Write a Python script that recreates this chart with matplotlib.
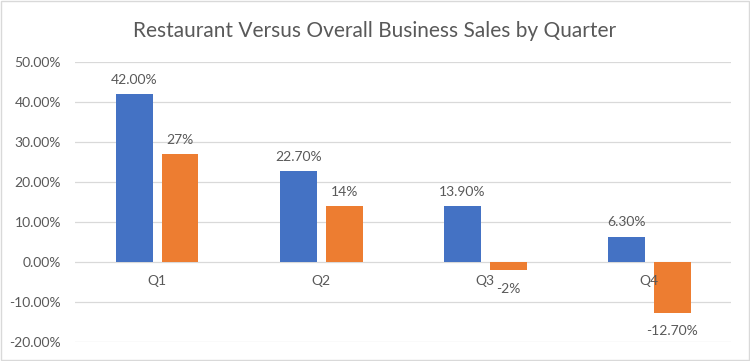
import matplotlib.pyplot as plt
import matplotlib.ticker as ticker
import numpy as np

# --- data ---
quarters = ['Q1', 'Q2', 'Q3', 'Q4']
restaurant = [0.42, 0.227, 0.139, 0.063]
overall = [0.27, 0.14, -0.02, -0.127]
restaurant_labels = ['42.00%', '22.70%', '13.90%', '6.30%']
overall_labels = ['27%', '14%', '-2%', '-12.70%']

plt.rcParams['font.family'] = ['Lato', 'DejaVu Sans']
text_color = '#595959'
blue = '#4472C4'
orange = '#ED7D31'

fig = plt.figure(figsize=(7.5, 3.61), dpi=100)
ax = fig.add_axes([0.1, 0.0526, 0.875, 0.7755])

x = np.arange(len(quarters))
w = 0.225
off = 0.14
b1 = ax.bar(x - off, restaurant, w, color=blue, zorder=2)
b2 = ax.bar(x + off, overall, w, color=orange, zorder=2)

# data labels: above positive bars, below negative ones
for xs, vals, labels in [(x - off, restaurant, restaurant_labels),
                         (x + off, overall, overall_labels)]:
    for xi, v, lab in zip(xs, vals, labels):
        up = v >= 0
        ax.annotate(lab, (xi, v),
                    xytext=(0, 6 if up else -9), textcoords='offset points',
                    ha='center', va='bottom' if up else 'top',
                    fontsize=10, color=text_color, zorder=5)

# category labels sit just under the zero line, drawn over the bars
for xi, q in zip(x, quarters):
    ax.annotate(q, (xi, 0), xytext=(0, -9), textcoords='offset points',
                ha='center', va='top', fontsize=10, color=text_color, zorder=5)

ax.set_xlim(-0.5, len(quarters) - 0.5)
ax.set_ylim(-0.2, 0.5)
ax.yaxis.set_major_locator(ticker.MultipleLocator(0.1))
ax.yaxis.set_major_formatter(ticker.FuncFormatter(lambda v, p: f'{v*100:.2f}%'))
ax.grid(axis='y', color='#D9D9D9', linewidth=0.9, zorder=0)
ax.set_axisbelow(True)

for s in ['top', 'right', 'left', 'bottom']:
    ax.spines[s].set_visible(False)

ax.set_xticks([])
ax.tick_params(axis='y', length=0, labelsize=10, colors=text_color, pad=10)

fig.text(0.5, 0.915, 'Restaurant Versus Overall Business Sales by Quarter',
         ha='center', va='center', fontsize=15, color=text_color)

# chart border
fig.patches.append(plt.Rectangle((0.001, 0.002), 0.997, 0.995, transform=fig.transFigure,
                                 fill=False, edgecolor='#D9D9D9', linewidth=1))

fig.savefig('out.png', dpi=100)
